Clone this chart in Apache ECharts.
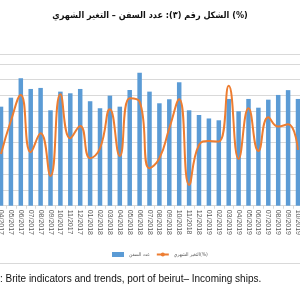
<!DOCTYPE html>
<html><head><meta charset="utf-8">
<script src="https://cdn.jsdelivr.net/npm/echarts@6/dist/echarts.min.js"></script>
<style>html,body{margin:0;padding:0;background:#fff}#c{width:300px;height:300px}</style>
</head><body><div id="c"></div>
<script>
const categories = ['04/2017','05/2017','06/2017','07/2017','08/2017','09/2017','10/2017','11/2017','12/2017',
 '01/2018','02/2018','03/2018','04/2018','05/2018','06/2018','07/2018','08/2018','09/2018','10/2018','11/2018','12/2018',
 '01/2019','02/2019','03/2019','04/2019','05/2019','06/2019','07/2019','08/2019','09/2019','10/2019'];
const ships = [125.8,137.2,161.9,148.3,149.6,121.2,144.9,142.8,148.3,
 132.7,123.8,139.8,125.8,147,169,144.9,130.1,135.2,156.8,121.2,115.2,
 110.8,108.5,135.6,119.9,135.6,124.5,134.7,140.7,146.8,135.6];
const change = [-7.9,8,20.4,-7.1,2.0,-18.5,20.8,-0.4,5.5,
 -10,-5.2,13.6,-8.9,18.8,17.2,-14.8,-10,4.4,18.4,-22.8,-3.6,
 -1.7,-2.0,24.8,-10.3,14.0,-6.5,9.7,5.2,6.3,-6.0];
const titleText = 'الشكل رقم (٣): عدد السفن – التغير الشهري (%)';
const barName = 'عدد السفن';
const lineName = 'التغير الشهري(%)';
const caption = ': Brite indicators and trends, port of beirut– Incoming ships.';

const chart = echarts.init(document.getElementById('c'), null, {renderer:'canvas'});
chart.setOption({
  animation:false,
  title:{text:titleText,left:'center',top:6,textStyle:{fontFamily:'DejaVu Sans Condensed',fontSize:9,fontWeight:'bold',color:'#111'}},
  grid:{left:-3.95,right:-2.95,top:54,bottom:94.3,outerBoundsMode:'none',containLabel:false},
  legend:{left:107,top:247,itemGap:6,itemWidth:12,itemHeight:5,
    textStyle:{fontFamily:'DejaVu Sans Condensed',fontSize:5,color:'#595959'},
    data:[{name:barName,icon:'rect'},{name:lineName}]},
  xAxis:{type:'category',data:categories,boundaryGap:true,
    axisLine:{lineStyle:{color:'#d9d9d9'}},
    axisTick:{show:true,length:3,interval:0,lineStyle:{color:'#d9d9d9'}},
    axisLabel:{rotate:-90,interval:0,fontSize:7,margin:4,color:'#595959',fontFamily:'Liberation Sans'}},
  yAxis:[{type:'value',min:0,max:192.7,interval:20,axisLabel:{show:false},axisLine:{show:false},axisTick:{show:false},
    splitLine:{lineStyle:{color:'#d9d9d9',width:1}}},
    {type:'value',min:-32.8,max:40.1,show:false,splitLine:{show:false}}],
  series:[
    {name:barName,type:'bar',data:ships,barWidth:4.5,itemStyle:{color:'#5B9BD5'},yAxisIndex:0},
    {name:lineName,type:'line',data:change,yAxisIndex:1,smooth:0.5,symbol:'none',
      lineStyle:{color:'#ED7D31',width:2},itemStyle:{color:'#ED7D31'}}
  ],
  graphic:[
    {type:'line',shape:{x1:0,y1:263.5,x2:300,y2:263.5},style:{stroke:'#d9d9d9',lineWidth:1}},
    {type:'text',left:0,top:274,style:{text:caption,font:'10px "Liberation Sans"',fill:'#111'}}
  ]
});
</script></body></html>
